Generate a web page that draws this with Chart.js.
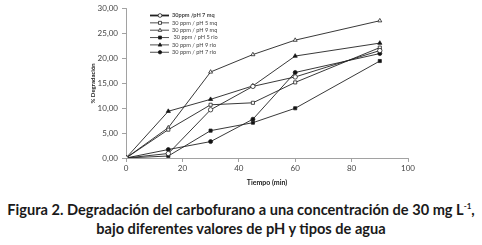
<!DOCTYPE html>
<html>
<head>
<meta charset="utf-8">
<script src="https://cdn.jsdelivr.net/npm/chart.js@4/dist/chart.umd.min.js"></script>
<style>
  html, body { margin: 0; padding: 0; background: #fff; }
  #wrap { width: 482px; height: 195px; position: relative; }
  #cap { width: 482px; text-align: center; font-family: Lato, "Open Sans", sans-serif; font-weight: 700;
         font-size: 14.6px; line-height: 19px; color: #1a1a1a; margin-top: 5px; letter-spacing: 0px; }
  #cap sup { font-size: 8px; line-height: 0; vertical-align: 6px; }
</style>
</head>
<body>
<div id="wrap"><canvas id="c" width="482" height="195"></canvas></div>
<div id="cap">Figura 2. Degradación del carbofurano a una concentración de 30 mg L<sup>-1</sup>,<br>bajo diferentes valores de pH y tipos de agua</div>
<script>
const times = [0, 15, 30, 45, 60, 90];
const seriesNames = ["30ppm /pH 7 mq", "30 ppm / pH 5 mq", "30 ppm / pH 9 mq", "30 ppm / pH 5 rio", "30 ppm / pH 9 rio", "30 ppm / pH 7 rio"];
const pH7mq  = [0, 0.9, 9.7, 14.4, 16.3, 21.6];
const pH5mq  = [0, 5.7, 10.7, 11.1, 15.2, 22.2];
const pH9mq  = [0, 6.1, 17.3, 20.8, 23.7, 27.6];
const pH5rio = [0, 0.4, 5.5, 7.1, 10.0, 19.5];
const pH9rio = [0, 9.4, 11.8, 14.5, 20.5, 23.1];
const pH7rio = [0, 1.7, 3.3, 7.8, 17.2, 21.0];
const xTicks = [0, 20, 40, 60, 80, 100];
const yTicks = [0, 5, 10, 15, 20, 25, 30];
const xTitle = "Tiempo (min)";
const yTitle = "% Degradación";

const styles = [
  {pointStyle: 'circle', fill: '#fff', r: 2.2, lw: 1.8},
  {pointStyle: 'rect', fill: '#fff', r: 2.2, lw: 0.8},
  {pointStyle: 'triangle', fill: '#fff', r: 2.3, lw: 0.8},
  {pointStyle: 'rect', fill: '#111', r: 2.2, lw: 0.8},
  {pointStyle: 'triangle', fill: '#111', r: 2.4, lw: 0.8},
  {pointStyle: 'circle', fill: '#111', r: 2.0, lw: 0.8}
];
const allSeries = [pH7mq, pH5mq, pH9mq, pH5rio, pH9rio, pH7rio];

const datasets = allSeries.map((vals, i) => ({
  label: seriesNames[i],
  data: times.map((t, k) => ({x: t, y: vals[k]})),
  borderColor: '#222',
  borderWidth: 0.9,
  pointStyle: styles[i].pointStyle,
  pointRadius: styles[i].r,
  pointBackgroundColor: styles[i].fill,
  pointBorderColor: '#222',
  pointBorderWidth: 0.8,
  tension: 0
}));

const legendPlugin = {
  id: 'customLegend',
  afterDraw(chart) {
    const ctx = chart.ctx;
    const ca = chart.chartArea;
    const x0 = ca.left + 24, rowH = 7.35, y0 = ca.top + 6.7;
    ctx.save();
    chart.data.datasets.forEach((ds, i) => {
      const y = y0 + i * rowH;
      ctx.strokeStyle = '#222';
      ctx.lineWidth = styles[i].lw;
      ctx.beginPath(); ctx.moveTo(x0, y); ctx.lineTo(x0 + 19, y); ctx.stroke();
      ctx.fillStyle = styles[i].fill; ctx.strokeStyle = '#222'; ctx.lineWidth = 0.8;
      ctx.beginPath();
      const r = styles[i].r * 0.85;
      const cx = x0 + 10;
      if (styles[i].pointStyle === 'circle') ctx.arc(cx, y, r, 0, Math.PI * 2);
      else if (styles[i].pointStyle === 'rect') ctx.rect(cx - r * 0.8, y - r * 0.8, r * 1.6, r * 1.6);
      else { ctx.moveTo(cx, y - r); ctx.lineTo(cx + r * 0.9, y + r * 0.6); ctx.lineTo(cx - r * 0.9, y + r * 0.6); ctx.closePath(); }
      ctx.fill(); ctx.stroke();
      ctx.fillStyle = '#444';
      ctx.font = (i === 0 ? 'bold ' : '') + '5.6px Lato, sans-serif';
      ctx.textBaseline = 'middle';
      ctx.fillText(ds.label, x0 + 22 + (i === 3 ? 1.5 : 0), y);
    });
    ctx.restore();
  }
};

new Chart(document.getElementById('c'), {
  type: 'line',
  data: { datasets },
  plugins: [legendPlugin],
  options: {
    responsive: false,
    animation: false,
    layout: { padding: { left: 86, right: 74, top: 8, bottom: 0 } },
    plugins: { legend: { display: false }, tooltip: { enabled: false } },
    scales: {
      x: {
        type: 'linear', min: 0, max: 100,
        afterBuildTicks: s => { s.ticks = xTicks.map(v => ({value: v})); },
        afterFit: s => { s.height = 37; },
        grid: { drawOnChartArea: false, tickLength: 4, color: '#8a8a8a', lineWidth: 0.8 },
        border: { color: '#8a8a8a', width: 0.8 },
        ticks: { color: '#444', font: { family: 'Lato', size: 8 }, padding: 2, maxRotation: 0 },
        title: { display: true, text: xTitle, color: '#222', font: { family: 'Lato', size: 7, weight: 'bold' }, padding: { top: 0, bottom: 8 } }
      },
      y: {
        min: 0, max: 30,
        afterBuildTicks: s => { s.ticks = yTicks.map(v => ({value: v})); },
        afterFit: s => { s.width = 40; },
        grid: { drawOnChartArea: false, tickLength: 4, color: '#8a8a8a', lineWidth: 0.8 },
        border: { color: '#8a8a8a', width: 0.8 },
        ticks: { color: '#444', font: { family: 'Lato', size: 8 }, padding: 4,
                 callback: v => v.toFixed(2).replace('.', ',') },
        title: { display: true, text: yTitle, color: '#222', font: { family: 'Lato', size: 6, weight: 'bold' }, padding: { top: 3, bottom: 0 } }
      }
    }
  }
});
</script>
</body>
</html>
